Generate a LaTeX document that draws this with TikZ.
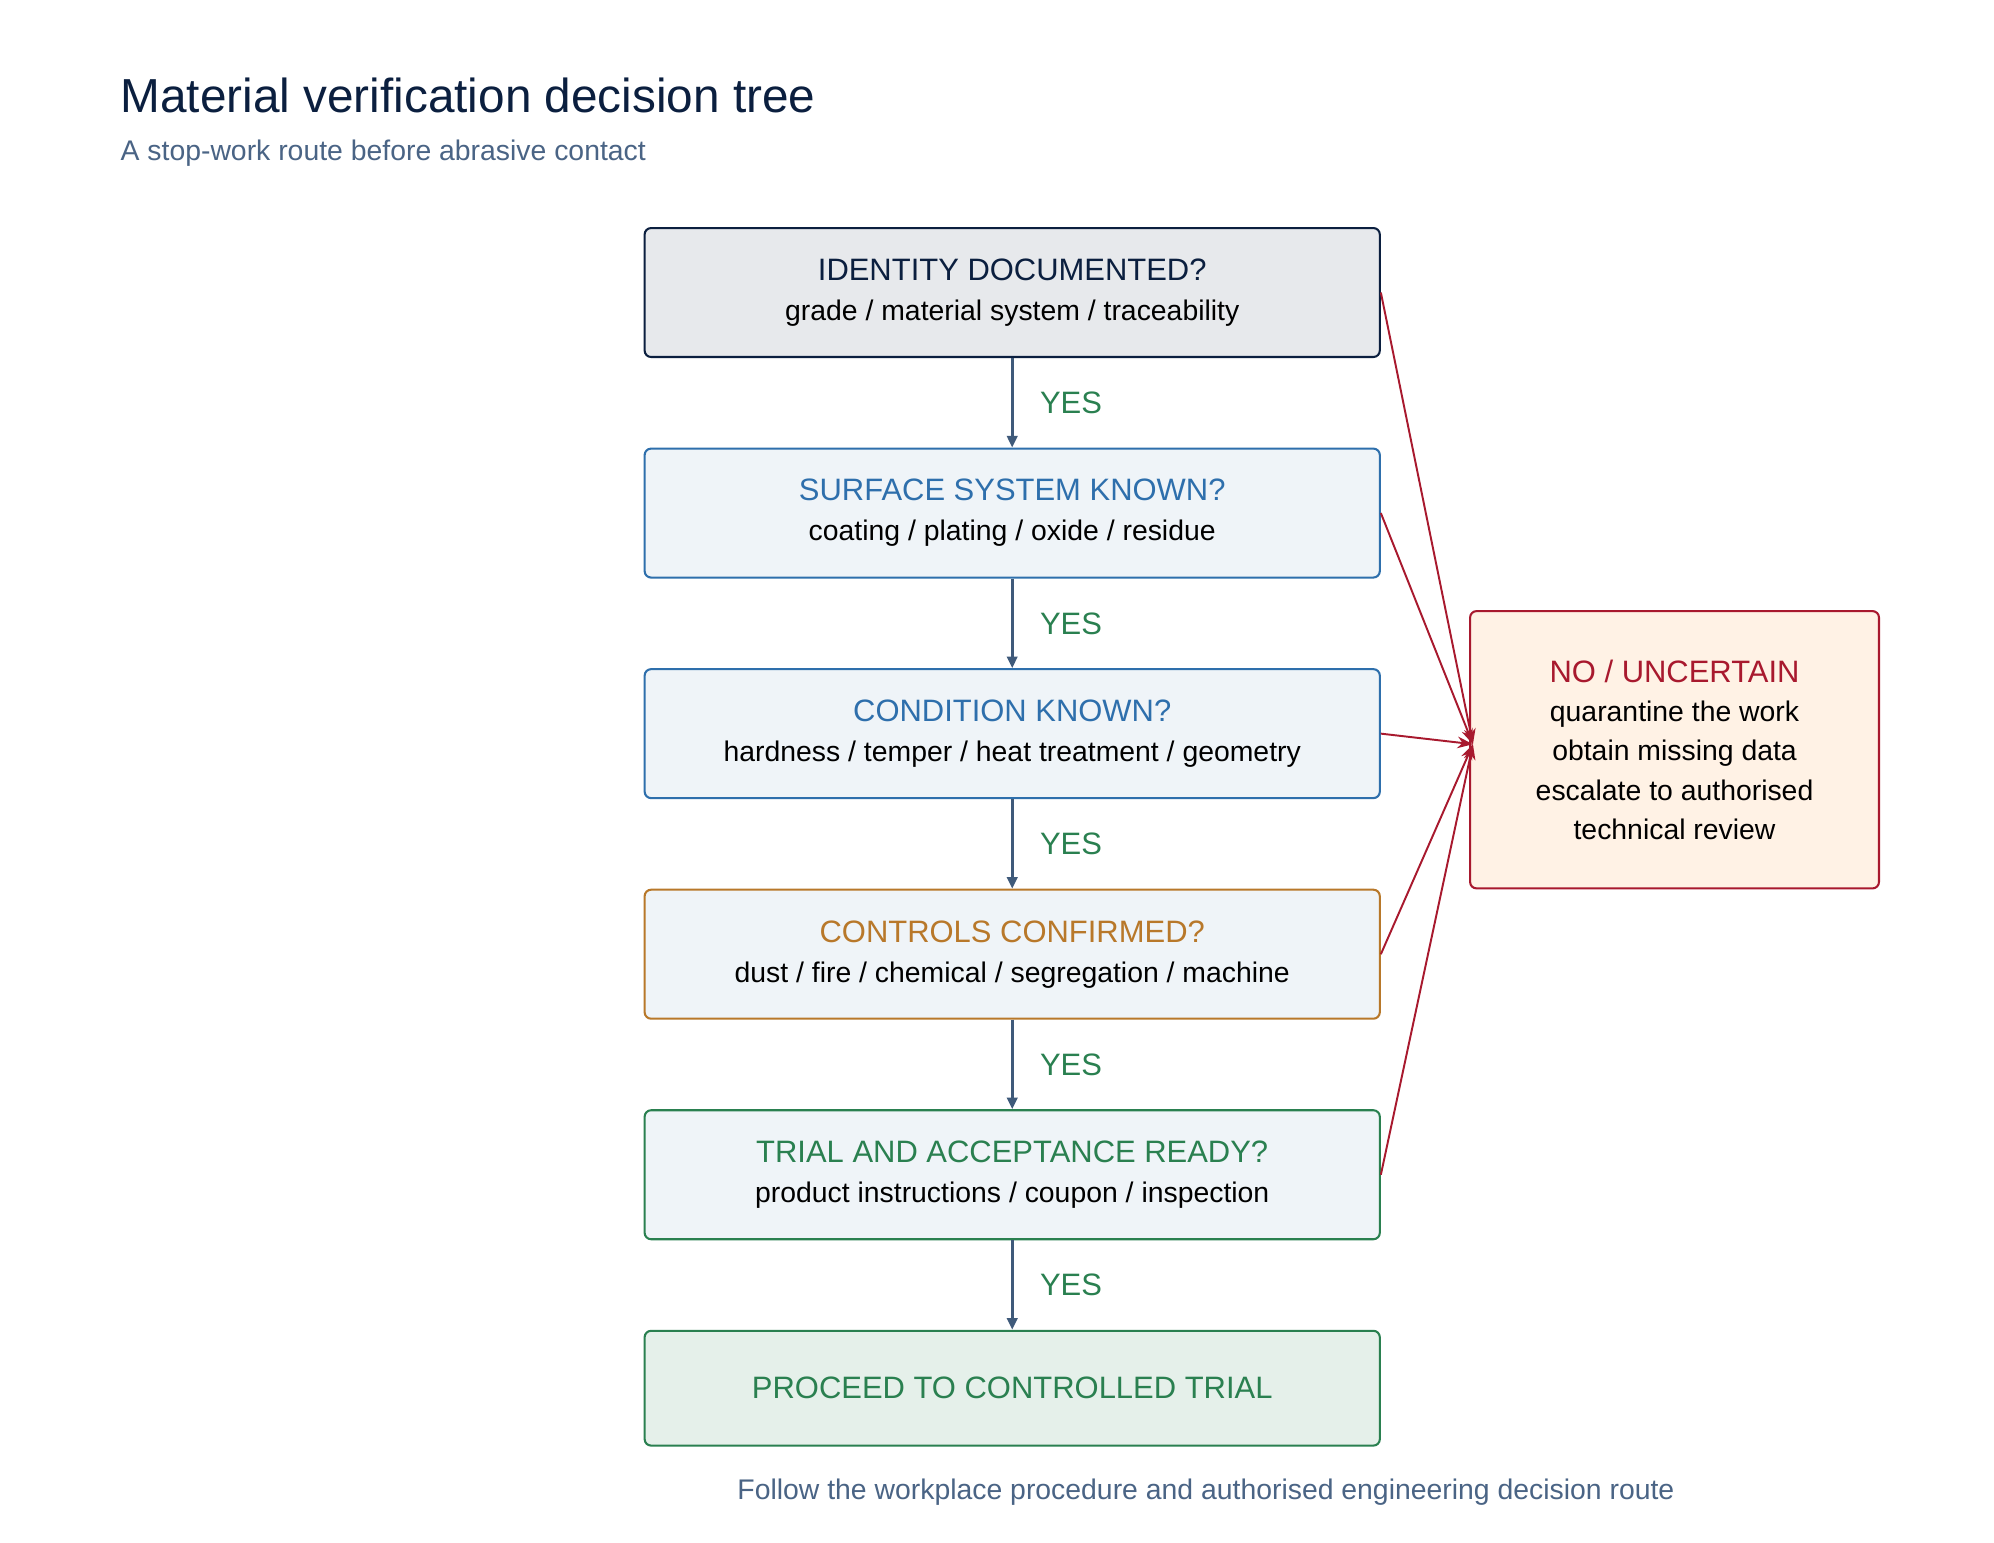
\documentclass[tikz,border=0pt]{standalone}
\usepackage{fontspec}
\setmainfont{Liberation Sans}
\usetikzlibrary{arrows.meta,calc}
\definecolor{navy}{HTML}{0B1F3F}
\definecolor{sub}{HTML}{4A6485}
\definecolor{blu}{HTML}{2E6FAC}
\definecolor{org}{HTML}{B8782A}
\definecolor{grn}{HTML}{2A8050}
\definecolor{red}{HTML}{A8192E}
\definecolor{arr}{HTML}{3F5A7A}
\definecolor{blfill}{HTML}{EFF4F8}
\begin{document}
\begin{tikzpicture}[x=1pt,y=-1pt,
 box/.style={draw,rounded corners=5pt,line width=1.6pt,minimum width=570pt,minimum height=100pt,align=center,font=\fontsize{22}{31}\selectfont,text=black,anchor=north west,fill=#1},
 box/.default={blfill},
 yes/.style={-{Triangle[length=9pt,width=8pt]},line width=2.5pt,draw=arr},
 yl/.style={text=grn,font=\fontsize{24}{28}\selectfont,anchor=west},
 no/.style={-{Stealth[length=12pt,width=9pt]},line width=1.5pt,draw=red}]
\useasboundingbox (0,0) rectangle (1546,1196);
\fill[white] (0,0) rectangle (1546,1196);
\node[anchor=west,text=navy,font=\fontsize{37}{40}\selectfont] (t) at (90,74) {Material verification decision tree};
\node[anchor=west,text=sub,font=\fontsize{22}{26}\selectfont] (s) at (90,119) {A stop-work route before abrasive contact};
\node[box=navy!10,draw=navy] (b1) at (499,176) {\textcolor{navy}{\fontsize{24}{31}\selectfont IDENTITY DOCUMENTED?}\\grade / material system / traceability};
\node[box,draw=blu] (b2) at (499,347) {\textcolor{blu}{\fontsize{24}{31}\selectfont SURFACE SYSTEM KNOWN?}\\coating / plating / oxide / residue};
\node[box,draw=blu] (b3) at (499,518) {\textcolor{blu}{\fontsize{24}{31}\selectfont CONDITION KNOWN?}\\hardness / temper / heat treatment / geometry};
\node[box,draw=org] (b4) at (499,689) {\textcolor{org}{\fontsize{24}{31}\selectfont CONTROLS CONFIRMED?}\\dust / fire / chemical / segregation / machine};
\node[box,draw=grn] (b5) at (499,860) {\textcolor{grn}{\fontsize{24}{31}\selectfont TRIAL AND ACCEPTANCE READY?}\\product instructions / coupon / inspection};
\node[box=grn!12,draw=grn,minimum height=89pt,text=grn,font=\fontsize{24}{31}\selectfont] (b6) at (499,1031) {PROCEED TO CONTROLLED TRIAL};
\node[draw=red,fill=orange!10,rounded corners=5pt,line width=1.6pt,minimum width=317pt,minimum height=215pt,align=center,anchor=north west,font=\fontsize{22}{30.5}\selectfont] (n) at (1139,473) {\textcolor{red}{\fontsize{24}{31}\selectfont NO / UNCERTAIN}\\quarantine the work\\obtain missing data\\escalate to authorised\\technical review};
\coordinate (h) at (1142,577);
\foreach \a/\b in {b1/b2,b2/b3,b3/b4,b4/b5,b5/b6}{
 \draw[yes] (\a.south) -- (\b.north);
 \node[yl] at ($(\a.south)!0.5!(\b.north)+(18,0)$) {YES};}
\foreach \a in {b1,b2,b3,b4,b5}
 \draw[no] (\a.east) -- (h);
\node[text=sub,font=\fontsize{22}{26}\selectfont] (f) at (935,1157) {Follow the workplace procedure and authorised engineering decision route};
\end{tikzpicture}
\end{document}
